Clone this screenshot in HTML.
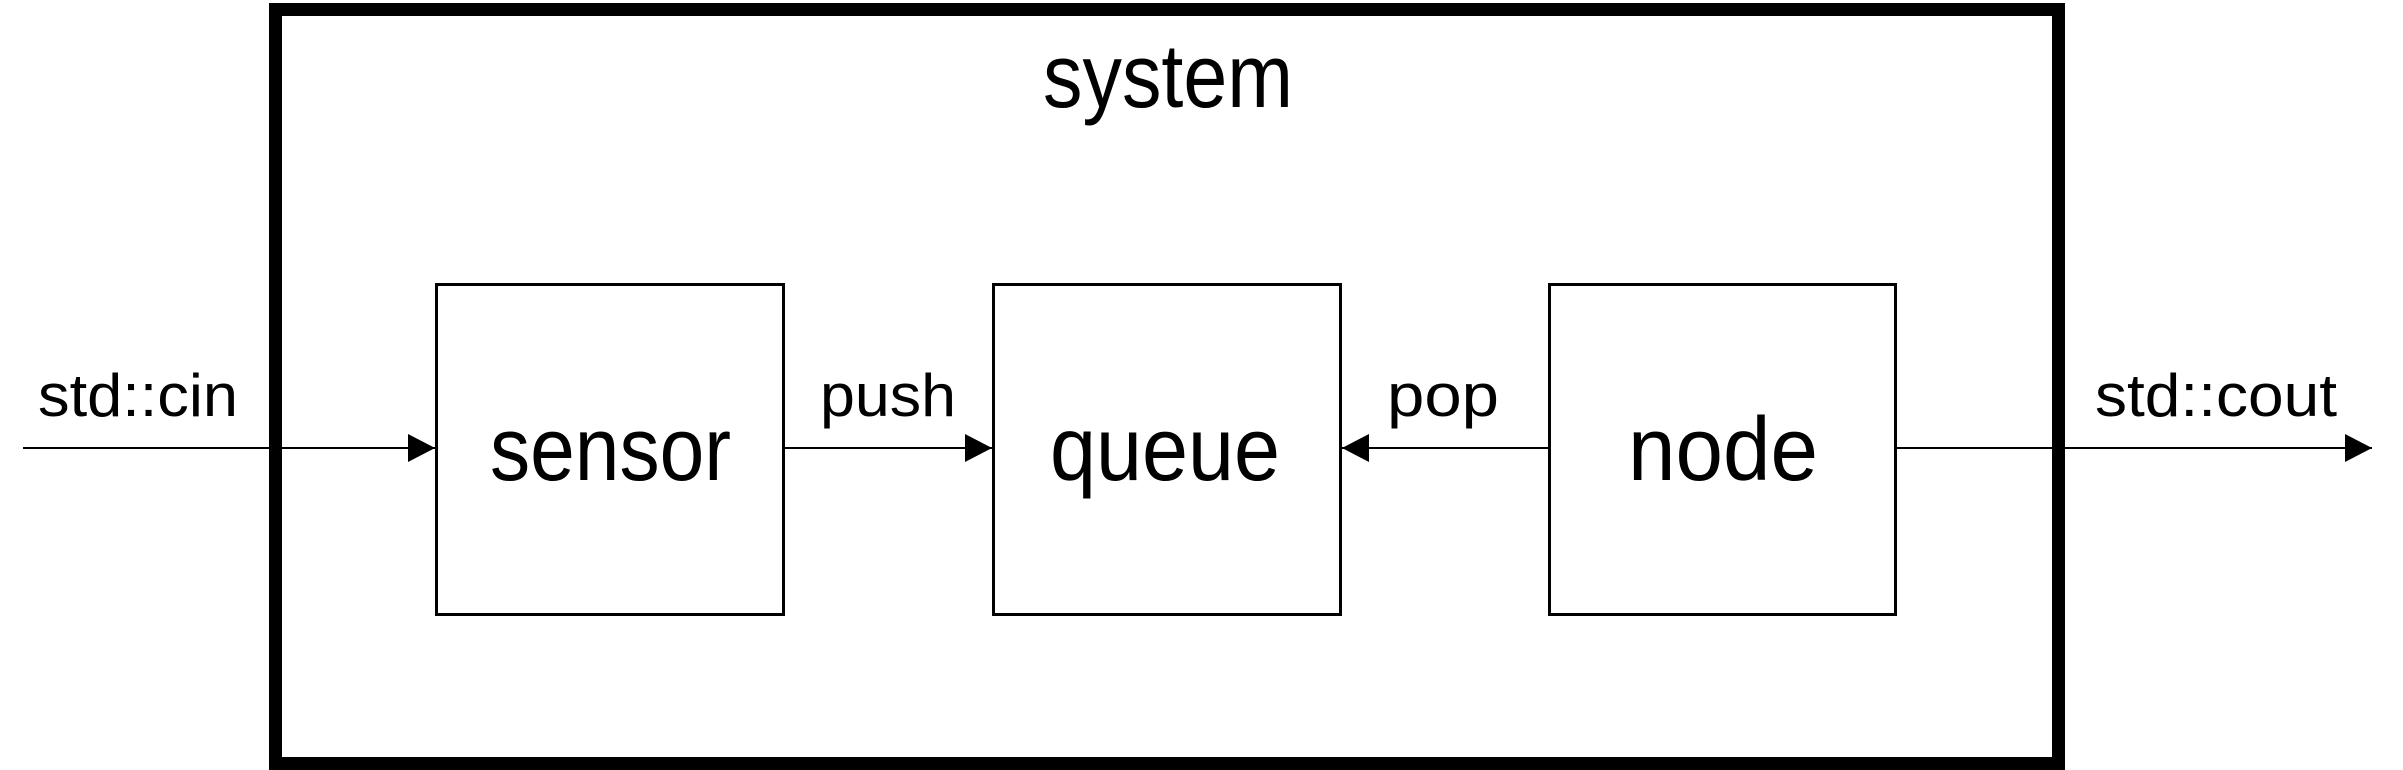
<!DOCTYPE html>
<html><head><style>html,body{margin:0;padding:0;background:#fff;}svg{display:block;}</style></head>
<body>
<svg width="2403" height="770" viewBox="0 0 2403 770" xmlns="http://www.w3.org/2000/svg" font-family="Liberation Sans, sans-serif">
<defs>
<marker id="a" markerWidth="28" markerHeight="28" refX="27" refY="14" orient="auto" markerUnits="userSpaceOnUse"><path d="M0,0 L27,14 L0,28 Z" fill="#000"/></marker>
</defs>
<rect x="275.5" y="9.5" width="1783" height="754" fill="none" stroke="#000" stroke-width="13"/>
<rect x="436.5" y="284.5" width="347" height="330" fill="none" stroke="#000" stroke-width="3"/>
<rect x="993.5" y="284.5" width="347" height="330" fill="none" stroke="#000" stroke-width="3"/>
<rect x="1549.5" y="284.5" width="346" height="330" fill="none" stroke="#000" stroke-width="3"/>
<g stroke="#000" stroke-width="2">
<line x1="23" y1="448" x2="435" y2="448" marker-end="url(#a)"/>
<line x1="785" y1="448" x2="992" y2="448" marker-end="url(#a)"/>
<line x1="1548" y1="448" x2="1342" y2="448" marker-end="url(#a)"/>
<line x1="1897" y1="448" x2="2372" y2="448" marker-end="url(#a)"/>
</g>
<g fill="#000" font-size="90">
<text x="1043" y="107" textLength="250" lengthAdjust="spacingAndGlyphs">system</text>
<text x="490" y="480" textLength="241" lengthAdjust="spacingAndGlyphs">sensor</text>
<text x="1050" y="480" textLength="230" lengthAdjust="spacingAndGlyphs">queue</text>
<text x="1628" y="480" textLength="190" lengthAdjust="spacingAndGlyphs">node</text>
</g>
<g fill="#000" font-size="60">
<text x="38" y="416" textLength="200" lengthAdjust="spacingAndGlyphs">std::cin</text>
<text x="820" y="416" textLength="136" lengthAdjust="spacingAndGlyphs">push</text>
<text x="1387" y="416" textLength="112" lengthAdjust="spacingAndGlyphs">pop</text>
<text x="2095" y="416" textLength="242" lengthAdjust="spacingAndGlyphs">std::cout</text>
</g>
</svg>
</body></html>
